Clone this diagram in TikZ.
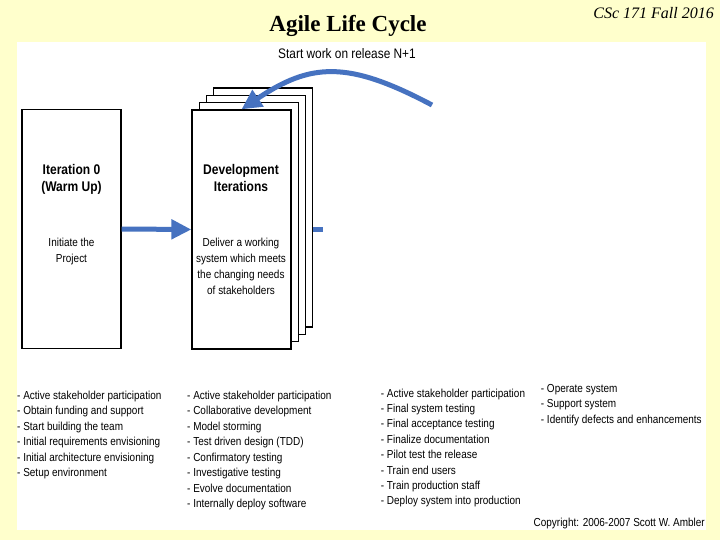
\documentclass[tikz,border=0pt]{standalone}
\usepackage{fontspec}
\setmainfont{Liberation Serif}
\newfontfamily\arialn[FakeStretch=0.86]{Liberation Sans}
\usetikzlibrary{arrows.meta}
\definecolor{bgyellow}{RGB}{255,255,204}
\definecolor{arrowblue}{RGB}{70,114,192}
\begin{document}
\begin{tikzpicture}[x=1pt,y=-1pt,
  box/.style={draw=black,line width=1.3pt,fill=white,minimum width=99pt,minimum height=239pt,inner sep=0pt},
  head/.style={font=\arialn\bfseries\fontsize{14}{16}\selectfont,inner sep=0pt,anchor=base},
  body/.style={font=\arialn\fontsize{11.6}{13}\selectfont,inner sep=0pt,anchor=base},
  item/.style={font=\arialn\fontsize{11.6}{13}\selectfont,inner sep=0pt,anchor=base west},
  flow/.style={draw=arrowblue,line width=5pt,-{Triangle[length=20pt,width=19pt]}}]
\useasboundingbox (0,0) rectangle (720,540);
\fill[bgyellow] (0,0) rectangle (720,540);
\fill[white] (17,42) rectangle (706,530);

\node[font=\bfseries\fontsize{23}{26}\selectfont,inner sep=0pt,anchor=base] (title) at (348,32) {Agile Life Cycle};
\node[font=\itshape\fontsize{16}{18}\selectfont,inner sep=0pt,anchor=base east] (course) at (714,19) {CSc 171 Fall 2016};
\node[font=\arialn\fontsize{13.8}{16}\selectfont,inner sep=0pt,anchor=base] (restart) at (347,59) {Start work on release N+1};

\node[box] (dev4) at (263.1,207.5) {};
\node[box] (dev3) at (255.9,214.8) {};
\node[box] (dev2) at (248.7,222.1) {};
\node[box] (dev) at (241.5,229.5) {};
\node[box] (it0) at (71.5,229) {};

\node[head] (it0a) at (71.5,175) {Iteration 0};
\node[head] (it0b) at (71.5,192) {(Warm Up)};
\node[body] (it0c) at (71.5,247) {Initiate the};
\node[body] (it0d) at (71.5,262.5) {Project};

\node[head] (deva) at (241,175) {Development};
\node[head] (devb) at (241,192) {Iterations};
\node[body] (devc) at (241,247) {Deliver a working};
\node[body] (devd) at (241,262.5) {system which meets};
\node[body] (deve) at (241,278) {the changing needs};
\node[body] (devf) at (241,294) {of stakeholders};

\draw[flow] (it0.east) -- (dev.west);
\coordinate (tail) at (432,105);
\draw[flow] (tail) .. controls (348,60.5) and (311,62.5) .. (dev.north);
\coordinate (stubend) at (323,229.5);
\draw[arrowblue,line width=5pt] (dev4.east |- dev.east) -- (stubend);

\foreach \t [count=\i] in {{- Active stakeholder participation},{- Obtain funding and support},{- Start building the team},{- Initial requirements envisioning},{- Initial architecture envisioning},{- Setup environment}}
  \node[item] (ca\i) at (17,{399+15.5*(\i-1)}) {\t};
\foreach \t [count=\i] in {{- Active stakeholder participation},{- Collaborative development},{- Model storming},{- Test driven design (TDD)},{- Confirmatory testing},{- Investigative testing},{- Evolve documentation},{- Internally deploy software}}
  \node[item] (cb\i) at (187,{399+15.5*(\i-1)}) {\t};
\foreach \t [count=\i] in {{- Active stakeholder participation},{- Final system testing},{- Final acceptance testing},{- Finalize documentation},{- Pilot test the release},{- Train end users},{- Train production staff},{- Deploy system into production}}
  \node[item] (cc\i) at (380.7,{397+15.4*(\i-1)}) {\t};
\foreach \t [count=\i] in {{- Operate system},{- Support system},{- Identify defects and enhancements}}
  \node[item] (cd\i) at (540.7,{392+15.5*(\i-1)}) {\t};

\node[font=\arialn\fontsize{11.6}{13}\selectfont,inner sep=0pt,anchor=base east] (copy) at (705,526.5) {Copyright: 2006-2007 Scott W. Ambler};
\end{tikzpicture}
\end{document}
